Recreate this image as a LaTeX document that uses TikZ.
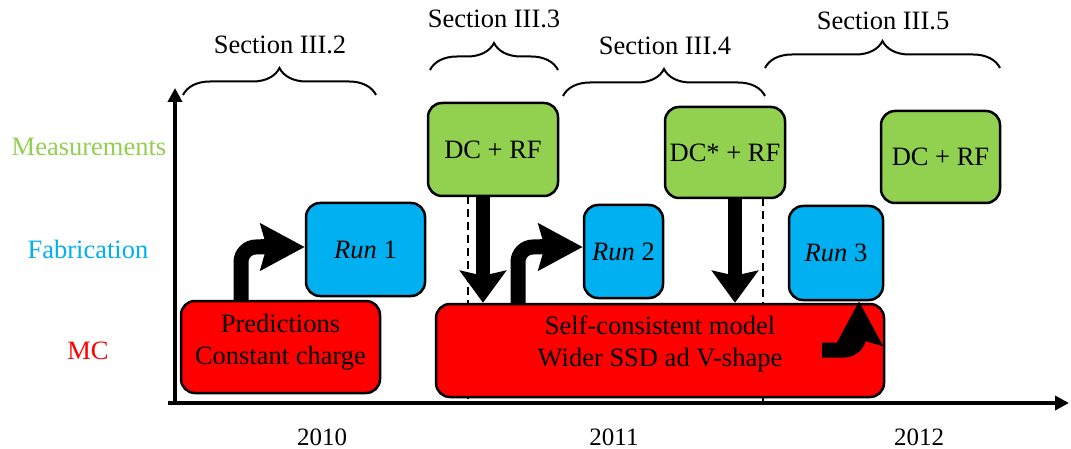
\documentclass[tikz,border=0pt]{standalone}
\usepackage{fontspec}
\setmainfont{Liberation Serif}
\usetikzlibrary{arrows.meta,decorations.pathreplacing}
\definecolor{measgreen}{HTML}{92D050}
\definecolor{fabcyan}{HTML}{00B0F0}
\definecolor{mcred}{HTML}{FF0000}
\begin{document}
\begin{tikzpicture}[x=1pt,y=-1pt,
  every node/.style={font=\fontsize{26.5}{32}\selectfont},
  box/.style={draw=black,line width=2.5pt,rounded corners=14pt,align=center,inner sep=0pt},
  measbox/.style={box,fill=measgreen},
  fabbox/.style={box,fill=fabcyan},
  mcbox/.style={box,fill=mcred},
  boxtext/.style={align=center,inner sep=0pt},
  shaft/.style={line width=15pt,rounded corners=15pt},
  bighead/.style={line width=15pt,-{Stealth[length=44pt,width=46pt,inset=6pt]}},
  downarrow/.style={line width=14pt,-{Stealth[length=32pt,width=46pt,inset=5pt]}},
  sectionbrace/.style={decorate,decoration={brace,amplitude=27pt},line width=2pt},
  axis/.style={line width=4.5pt,-{Triangle[length=14pt,width=14pt]}},
  divider/.style={line width=1.5pt,dash pattern=on 8pt off 5pt}]
\useasboundingbox (0,0) rectangle (1071,449);

% time dividers between the years
\coordinate (d1top) at (468,196);
\coordinate (d1bot) at (468,404);
\coordinate (d2top) at (763,198);
\coordinate (d2bot) at (763,404);
\draw[divider] (d1top) -- (d1bot);
\draw[divider] (d2top) -- (d2bot);

% axes
\coordinate (origin) at (175,405);
\coordinate (ytip) at (175,88);
\coordinate (xstart) at (168,403);
\coordinate (xtip) at (1069,403);
\draw[axis] (origin) -- (ytip);
\draw[axis] (xstart) -- (xtip);

% row labels
\node[text=measgreen] (lmeas) at (89,147) {Measurements};
\node[text=fabcyan] (lfab) at (88,249) {Fabrication};
\node[text=mcred] (lmc) at (88,351) {MC};

% years
\node[font=\fontsize{25}{30}\selectfont] (y2010) at (322,437) {2010};
\node[font=\fontsize{25}{30}\selectfont] (y2011) at (614,437) {2011};
\node[font=\fontsize{25}{30}\selectfont] (y2012) at (919,437) {2012};

% MC boxes
\node[mcbox,minimum width=199pt,minimum height=92pt] (pred) at (280.5,347) {};
\node[boxtext] (predtext) at (280.5,342) {Predictions\\Constant charge};
\node[mcbox,minimum width=448pt,minimum height=93pt] (mc) at (660,350.5) {};
\node[boxtext] (mctext) at (660,344) {Self-consistent model\\Wider SSD ad V-shape};

% fabrication runs
\node[fabbox,minimum width=119pt,minimum height=93pt] (run1) at (365.5,249.5) {\textit{Run} 1};
\node[fabbox,minimum width=79pt,minimum height=93pt] (run2) at (623.5,251.5) {\textit{Run} 2};
\node[fabbox,minimum width=94pt,minimum height=94pt] (run3) at (836,253) {\textit{Run} 3};

% measurements
\node[measbox,minimum width=130pt,minimum height=93pt] (m1) at (493,149.5) {DC + RF};
\node[measbox,minimum width=120pt,minimum height=91pt] (m2) at (725,152.5) {DC* + RF};
\node[measbox,minimum width=119pt,minimum height=92pt] (m3) at (940.5,157) {DC + RF};

% bent arrows: shaft first, then the head on its own straight piece
\coordinate (h1) at (261,247);
\draw[shaft] (pred.north -| 241,0) |- (266,247);
\draw[bighead] (h1) -- (run1.west |- h1);

\coordinate (h2) at (540,247);
\draw[shaft] (mc.north -| 518,0) |- (545,247);
\draw[bighead] (h2) -- (run2.west |- h2);

\coordinate (fbstart) at (822,350);
\coordinate (h3) at (859,335);
\draw[shaft] (fbstart) -| (859,330);
\draw[bighead] (h3) -- (run3.south -| h3);

% straight arrows from measurements to the model
\draw[downarrow] (m1.south -| 483,0) -- (mc.north -| 483,0);
\draw[downarrow] (m2.south -| 735,0) -- (mc.north -| 735,0);

% sections
\draw[sectionbrace] (183,95) -- (376,95);
\draw[sectionbrace] (430,70) -- (558,70);
\draw[sectionbrace] (563,96) -- (765,96);
\draw[sectionbrace] (765,68) -- (1000,68);
\node (s2) at (280,45) {Section III.2};
\node (s3) at (494,19) {Section III.3};
\node (s4) at (665,46) {Section III.4};
\node (s5) at (883,21) {Section III.5};
\end{tikzpicture}
\end{document}
